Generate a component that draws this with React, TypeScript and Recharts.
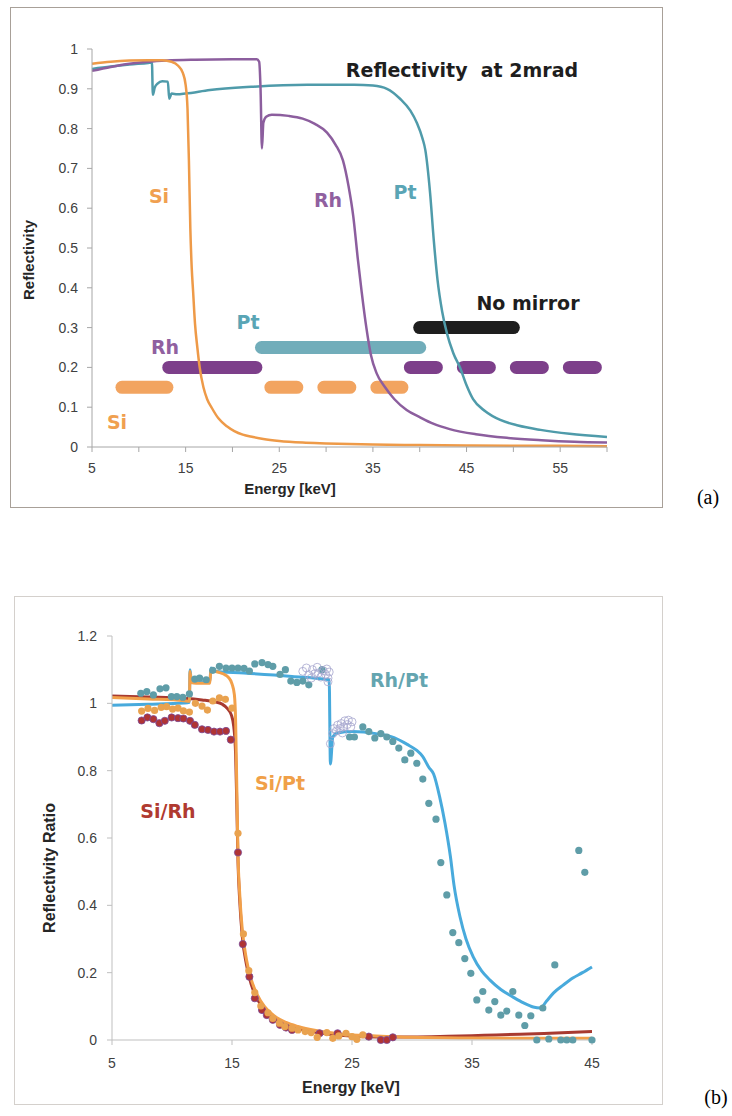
import { ComposedChart, Line, Scatter, XAxis, YAxis } from 'recharts'

// ---------- (a) Reflectivity at 2 mrad ----------
const siCurve = [
  [5, 0.963], [7, 0.968], [9, 0.971], [11, 0.972], [12.5, 0.972], [13.5, 0.968], [14.2, 0.958],
  [14.7, 0.94], [15.0, 0.91], [15.2, 0.85], [15.35, 0.72], [15.5, 0.55], [15.65, 0.45], [15.8, 0.39],
  [16.0, 0.31], [16.25, 0.25], [16.5, 0.2], [16.9, 0.15], [17.3, 0.12], [17.8, 0.098], [18.5, 0.072],
  [19.4, 0.052], [20.2, 0.04], [21.1, 0.031], [22.2, 0.025], [23.3, 0.02], [25, 0.015], [27.5, 0.011],
  [30, 0.009], [35, 0.006], [40, 0.005], [45, 0.004], [50, 0.003], [55, 0.003], [60, 0.002],
]

const rhCurve = [
  [5, 0.945], [7, 0.955], [9, 0.963], [11, 0.968], [13, 0.971], [16, 0.973], [20, 0.974], [22.6, 0.974],
  [22.85, 0.968], [23.0, 0.9], [23.15, 0.75], [23.3, 0.815], [23.6, 0.83], [24.2, 0.835], [26, 0.832],
  [27.5, 0.825], [28.8, 0.812], [30.1, 0.79], [31.0, 0.76], [31.8, 0.72], [32.4, 0.655], [32.9, 0.58],
  [33.4, 0.47], [33.8, 0.39], [34.3, 0.3], [34.8, 0.23], [35.4, 0.185], [36.3, 0.15], [37.3, 0.12],
  [38.6, 0.093], [40, 0.075], [41.5, 0.058], [43.2, 0.045], [46, 0.032], [49.3, 0.023], [53, 0.017],
  [56.5, 0.013], [60, 0.011],
]

const ptCurve = [
  [5, 0.95], [7, 0.956], [9, 0.961], [11, 0.965], [11.4, 0.966], [11.5, 0.885], [11.7, 0.903],
  [12.0, 0.913], [12.5, 0.919], [13.1, 0.918], [13.25, 0.875], [13.5, 0.888], [14.1, 0.886], [15, 0.888],
  [17.6, 0.897], [22, 0.905], [28, 0.91], [33, 0.91], [35, 0.908], [36.5, 0.9], [37.9, 0.875],
  [39, 0.845], [39.7, 0.814], [40.3, 0.775], [40.6, 0.746], [41.1, 0.64], [41.5, 0.52], [41.9, 0.42],
  [42.4, 0.34], [42.9, 0.286], [43.6, 0.235], [44.3, 0.2], [45, 0.155], [45.7, 0.12], [47, 0.09],
  [48.6, 0.068], [50.5, 0.054], [52.9, 0.043], [56, 0.033], [60, 0.025],
]

// usable energy ranges per mirror coating [from, to] keV, and the level they're drawn at
const siRange = [8.2, 13.0]
const siRangeExtra = [24.1, 38.1]
const rhRange = [13.2, 22.5]
const rhRangeExtra = [39.0, 58.8]
const ptRange = [23.1, 40.0]
const noMirrorRange = [40.0, 50.0]
const siLevel = 0.15
const rhLevel = 0.2
const ptLevel = 0.25
const noMirrorLevel = 0.3

const xTicksA = [5, 10, 15, 20, 25, 30, 35, 40, 45, 50, 55, 60]
const yTicksA = [0, 0.1, 0.2, 0.3, 0.4, 0.5, 0.6, 0.7, 0.8, 0.9, 1]

// ---------- (b) Reflectivity ratios ----------
const rhPtTheory = [
  [5, 0.994], [8, 0.997], [11, 1.001], [11.45, 1.003], [11.5, 1.1], [11.6, 1.07], [11.9, 1.064],
  [13.15, 1.065], [13.25, 1.105], [13.5, 1.095], [16, 1.09], [20, 1.08], [23.1, 1.07], [23.2, 0.82],
  [23.4, 0.9], [23.8, 0.912], [25, 0.916], [27, 0.91], [28.5, 0.898], [29.6, 0.878], [30.4, 0.86],
  [30.9, 0.842], [31.4, 0.81], [31.8, 0.79], [32.3, 0.723], [32.75, 0.644], [33.2, 0.545], [33.5, 0.46],
  [34, 0.366], [34.5, 0.3], [35.1, 0.247], [35.8, 0.205], [36.5, 0.178], [37.4, 0.15], [38.4, 0.128],
  [39.3, 0.11], [40.1, 0.098], [40.7, 0.095], [41.2, 0.115], [41.8, 0.14], [42.6, 0.163], [43.4, 0.184],
  [44.2, 0.2], [45, 0.217],
]

const siPtTheory = [
  [5, 1.017], [8, 1.013], [11, 1.008], [11.45, 1.006], [11.5, 1.095], [11.6, 1.062], [12, 1.06],
  [13.15, 1.06], [13.25, 1.1], [13.8, 1.093], [14.3, 1.087], [14.7, 1.077], [15.0, 1.058], [15.2, 1.025],
  [15.3, 0.95], [15.4, 0.75], [15.5, 0.55], [15.65, 0.43], [15.85, 0.33], [16.2, 0.24], [16.6, 0.18],
  [17.1, 0.135], [17.7, 0.1], [18.5, 0.072], [19.5, 0.052], [20.5, 0.04], [22, 0.028], [24, 0.018],
  [27, 0.012], [30, 0.008], [35, 0.006], [40, 0.005], [45, 0.005],
]

const siRhTheory = [
  [5, 1.022], [8, 1.019], [11, 1.015], [12.5, 1.01], [13.5, 1.005], [14.2, 0.997], [14.6, 0.985],
  [14.95, 0.965], [15.15, 0.93], [15.3, 0.85], [15.4, 0.7], [15.5, 0.53], [15.65, 0.41], [15.85, 0.31],
  [16.2, 0.225], [16.6, 0.165], [17.1, 0.122], [17.7, 0.09], [18.5, 0.063], [19.5, 0.045], [20.5, 0.034],
  [22, 0.023], [24, 0.014], [27, 0.009], [30, 0.009], [33, 0.011], [36, 0.014], [39, 0.017], [42, 0.021],
  [45, 0.025],
]

const rhPtMeasured = [
  [7.4, 1.03], [7.9, 1.035], [8.45, 1.025], [9.0, 1.043], [9.5, 1.046], [9.95, 1.02], [10.4, 1.02],
  [10.9, 1.018], [11.45, 1.028], [11.9, 1.072], [12.3, 1.075], [12.85, 1.07], [13.4, 1.098], [13.95, 1.11],
  [14.5, 1.105], [15.0, 1.105], [15.5, 1.105], [16.0, 1.104], [16.45, 1.096], [16.9, 1.117], [17.5, 1.121],
  [18.0, 1.115], [18.4, 1.11], [19.0, 1.086], [19.45, 1.1], [19.9, 1.066], [20.4, 1.062], [20.9, 1.066],
  [21.4, 1.055], [22.5, 1.1], [24.8, 0.9], [25.2, 0.9], [25.9, 0.93], [26.4, 0.916], [26.9, 0.897],
  [27.4, 0.91], [27.9, 0.9], [28.4, 0.887], [28.9, 0.867], [29.4, 0.832], [29.9, 0.852], [30.4, 0.822],
  [30.9, 0.775], [31.4, 0.703], [32.0, 0.656], [32.4, 0.527], [32.9, 0.431], [33.4, 0.319], [33.9, 0.289],
  [34.4, 0.242], [34.9, 0.198], [35.4, 0.119], [35.9, 0.144], [36.4, 0.089], [36.9, 0.114], [37.4, 0.074],
  [37.9, 0.086], [38.4, 0.144], [38.9, 0.074], [39.4, 0.043], [39.9, 0.072], [40.4, 0.0], [40.9, 0.095],
  [41.4, 0.003], [41.9, 0.223], [42.4, 0.0], [42.9, 0.0], [43.4, 0.0], [43.9, 0.563], [44.4, 0.498],
  [45.0, 0.0],
]

const rhPtEdgeScan = [
  [20.9, 1.095], [21.2, 1.105], [21.4, 1.085], [21.7, 1.1], [21.9, 1.088], [22.1, 1.107], [22.2, 1.09],
  [22.4, 1.078], [22.6, 1.097], [22.8, 1.086], [22.9, 1.102], [23.0, 1.075], [23.1, 1.093], [23.0, 1.064],
  [21.6, 1.075], [23.2, 0.88], [23.4, 0.91], [23.5, 0.925], [23.7, 0.918], [23.8, 0.935], [24.0, 0.925],
  [24.1, 0.94], [24.3, 0.93], [24.4, 0.948], [24.6, 0.937], [24.7, 0.95], [24.9, 0.93], [25.0, 0.945],
  [24.2, 0.912],
]

const siPtMeasured = [
  [7.47, 0.977], [8.0, 0.985], [8.55, 0.979], [9.1, 0.988], [9.55, 0.99], [10.05, 0.983], [10.5, 0.986],
  [10.95, 0.978], [11.45, 0.974], [11.95, 1.0], [12.5, 0.992], [12.95, 0.98], [13.4, 1.007], [13.95, 1.016],
  [14.45, 1.012], [15.0, 0.986], [15.5, 0.614], [15.95, 0.315], [16.4, 0.206], [16.9, 0.141], [17.4, 0.101],
  [18.0, 0.081], [18.4, 0.064], [18.95, 0.05], [19.4, 0.04], [20.0, 0.035], [20.5, 0.03], [21.1, 0.025],
  [21.6, 0.022], [22.1, 0.008], [22.9, 0.022], [23.4, 0.005], [23.9, 0.012], [24.5, 0.02], [25.0, 0.01],
  [25.4, 0.002], [25.9, 0.015],
]

const siRhMeasured = [
  [7.47, 0.949], [7.95, 0.958], [8.45, 0.953], [8.95, 0.941], [9.4, 0.948], [9.97, 0.958], [10.5, 0.956],
  [10.95, 0.955], [11.5, 0.948], [11.9, 0.936], [12.5, 0.923], [13.0, 0.921], [13.5, 0.916], [14.0, 0.916],
  [14.5, 0.918], [14.9, 0.892], [15.5, 0.557], [15.9, 0.285], [16.45, 0.188], [16.9, 0.124], [17.5, 0.089],
  [17.9, 0.074], [18.4, 0.06], [19.0, 0.045], [19.5, 0.037], [20.0, 0.03], [22.3, 0.02], [23.8, 0.02],
  [26.4, 0.01], [27.4, 0.0], [27.9, 0.0], [28.4, 0.008],
]

const xTicksB = [5, 15, 25, 35, 45]
const yTicksB = [0, 0.2, 0.4, 0.6, 0.8, 1, 1.2]

const pts = (arr: number[][]) => arr.map(([x, y]) => ({ x, y }))
const span = ([from, to]: number[], level: number) => [{ x: from, y: level }, { x: to, y: level }]

const tickFont = { fill: '#404040', fontSize: 14, fontFamily: 'Liberation Sans' }
const comic = 'DejaVu Sans'

const dot = (fill: string, stroke = 'none', r = 3.6) => (props: any) => (
  <circle cx={props.cx} cy={props.cy} r={r} fill={fill} stroke={stroke} strokeWidth={0.8} />
)

function ChartA() {
  const barProps = { dataKey: 'y', dot: false, strokeWidth: 13, strokeLinecap: 'round' as const, isAnimationActive: false }
  return (
    <ComposedChart width={653} height={501} margin={{ top: 42, right: 56, bottom: 31, left: 30 }}>
      <XAxis
        dataKey="x"
        type="number"
        domain={[5, 60]}
        ticks={xTicksA}
        interval={0}
        tickFormatter={(v) => (v % 10 === 5 ? String(v) : '')}
        stroke="#a6a6a6"
        tickSize={5}
        tickMargin={11}
        tick={tickFont}
        height={30}
      />
      <YAxis
        dataKey="y"
        type="number"
        domain={[0, 1]}
        ticks={yTicksA}
        interval={0}
        stroke="#a6a6a6"
        tickSize={5}
        tickMargin={9}
        tick={tickFont}
        width={52}
      />
      <Line {...barProps} data={span(siRange, siLevel)} stroke="#f2a460" />
      <Line {...barProps} data={span(siRangeExtra, siLevel)} stroke="#f2a460" strokeDasharray="26 27" />
      <Line {...barProps} data={span(rhRange, rhLevel)} stroke="#7d3f8a" />
      <Line {...barProps} data={span(rhRangeExtra, rhLevel)} stroke="#7d3f8a" strokeDasharray="26 27" />
      <Line {...barProps} data={span(ptRange, ptLevel)} stroke="#71adba" />
      <Line {...barProps} data={span(noMirrorRange, noMirrorLevel)} stroke="#1e1e1e" />
      <Line data={pts(ptCurve)} dataKey="y" type="monotone" stroke="#4f9baa" strokeWidth={2.5} dot={false} isAnimationActive={false} />
      <Line data={pts(rhCurve)} dataKey="y" type="monotone" stroke="#8c5e9e" strokeWidth={2.5} dot={false} isAnimationActive={false} />
      <Line data={pts(siCurve)} dataKey="y" type="monotone" stroke="#ee9a48" strokeWidth={2.5} dot={false} isAnimationActive={false} />
    </ComposedChart>
  )
}

function ChartB() {
  return (
    <ComposedChart width={649} height={509} margin={{ top: 40, right: 71, bottom: 35, left: 48 }}>
      <XAxis
        dataKey="x"
        type="number"
        domain={[5, 45]}
        ticks={xTicksB}
        interval={0}
        stroke="#bfbfbf"
        tickSize={5}
        tickMargin={13}
        tick={tickFont}
        height={30}
      />
      <YAxis
        dataKey="y"
        type="number"
        domain={[0, 1.2]}
        ticks={yTicksB}
        interval={0}
        stroke="#bfbfbf"
        tickSize={5}
        tickMargin={10}
        tick={tickFont}
        width={50}
      />
      <Line data={pts(siRhTheory)} dataKey="y" type="monotone" stroke="#a83a30" strokeWidth={3} dot={false} isAnimationActive={false} />
      <Line data={pts(rhPtTheory)} dataKey="y" type="monotone" stroke="#48aadc" strokeWidth={3} dot={false} isAnimationActive={false} />
      <Scatter data={pts(siRhMeasured)} dataKey="y" shape={dot('#b03434', '#7a4a9a')} isAnimationActive={false} />
      <Line data={pts(siPtTheory)} dataKey="y" type="monotone" stroke="#f2a04a" strokeWidth={3} dot={false} isAnimationActive={false} />
      <Scatter data={pts(siPtMeasured)} dataKey="y" shape={dot('#e9a24f')} isAnimationActive={false} />
      <Scatter data={pts(rhPtMeasured)} dataKey="y" shape={dot('#5f9da8')} isAnimationActive={false} />
      <Scatter data={pts(rhPtEdgeScan)} dataKey="y" shape={dot('none', '#a6a6ce', 4)} isAnimationActive={false} />
    </ComposedChart>
  )
}

export default function App() {
  const lbl = { fontFamily: comic, fontWeight: 'bold' as const, fontSize: 19, textAnchor: 'middle' as const }
  const axisTitle = { fontFamily: 'Liberation Sans', fontWeight: 'bold' as const, fill: '#262626', textAnchor: 'middle' as const }
  return (
    <div style={{ position: 'absolute', left: 0, top: 0, width: 732, height: 1116, background: '#fff' }}>
      <div style={{ position: 'absolute', left: 10, top: 7, width: 653, height: 501, border: '1px solid #a8a098', boxSizing: 'border-box' }} />
      <div style={{ position: 'absolute', left: 10, top: 7 }}>
        <ChartA />
      </div>
      <div style={{ position: 'absolute', left: 14, top: 596, width: 649, height: 509, border: '1px solid #d4d0cc', boxSizing: 'border-box' }} />
      <div style={{ position: 'absolute', left: 14, top: 596 }}>
        <ChartB />
      </div>
      <svg width={732} height={1116} style={{ position: 'absolute', left: 0, top: 0, pointerEvents: 'none' }}>
        <text x={462} y={77} fill="#1e1e1e" {...lbl} style={{ whiteSpace: 'pre' }}>{'Reflectivity  at 2mrad'}</text>
        <text x={159} y={203} fill="#f0a050" {...lbl}>Si</text>
        <text x={328} y={207} fill="#9060a0" {...lbl}>Rh</text>
        <text x={405} y={199} fill="#5aa5b5" {...lbl}>Pt</text>
        <text x={165} y={354} fill="#9060a0" {...lbl}>Rh</text>
        <text x={248} y={329} fill="#5aa5b5" {...lbl}>Pt</text>
        <text x={117} y={429} fill="#f0a050" {...lbl}>Si</text>
        <text x={528} y={310} fill="#1e1e1e" {...lbl}>No mirror</text>
        <text x={290} y={494} fontSize={15} {...axisTitle}>Energy [keV]</text>
        <text x={0} y={0} fontSize={15} {...axisTitle} transform="translate(34,260) rotate(-90)">Reflectivity</text>
        <text x={708} y={504} fontSize={20} fontFamily="Liberation Serif" textAnchor="middle">(a)</text>

        <text x={399} y={687} fill="#64a5b0" {...lbl}>Rh/Pt</text>
        <text x={280} y={790} fill="#f0a048" {...lbl}>Si/Pt</text>
        <text x={168} y={818} fill="#b03a30" {...lbl}>Si/Rh</text>
        <text x={351} y={1093} fontSize={16} {...axisTitle}>Energy [keV]</text>
        <text x={0} y={0} fontSize={16} {...axisTitle} transform="translate(55,868) rotate(-90)">Reflectivity Ratio</text>
        <text x={716} y={1104} fontSize={20} fontFamily="Liberation Serif" textAnchor="middle">(b)</text>
      </svg>
    </div>
  )
}
